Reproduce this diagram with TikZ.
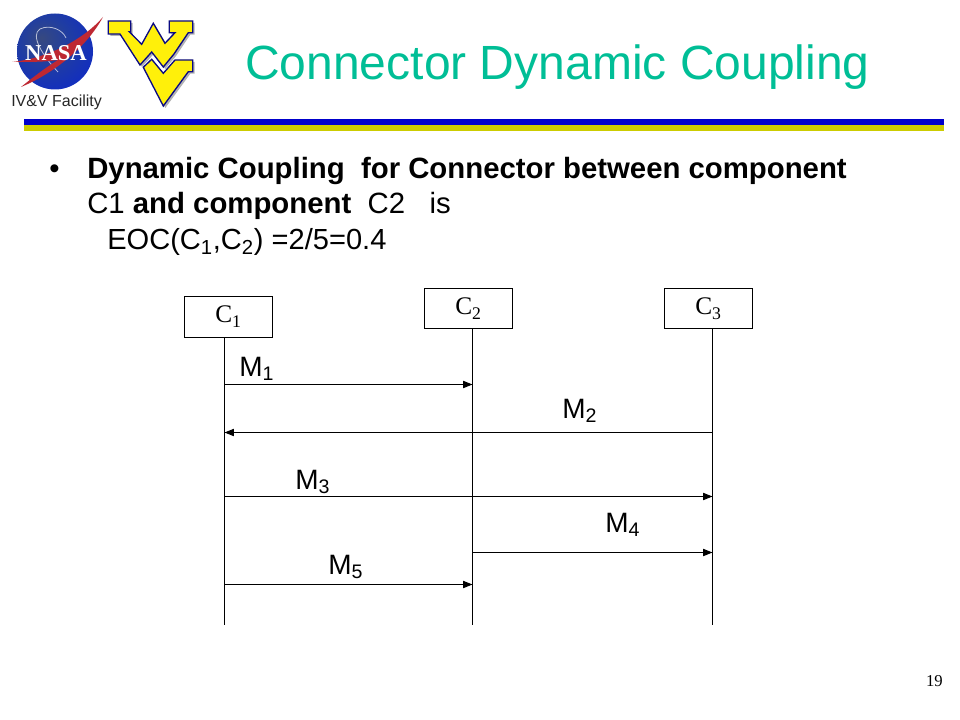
\documentclass[tikz,border=0pt]{standalone}
\usepackage{fontspec}
\setmainfont{Liberation Sans}
\newfontfamily\serifface{Liberation Serif}
\usetikzlibrary{arrows.meta,shadings}
\definecolor{titlegreen}{RGB}{0,190,150}
\definecolor{barblue}{RGB}{0,0,204}
\definecolor{barolive}{RGB}{204,204,0}
\definecolor{wvnavy}{RGB}{10,10,130}
\definecolor{wvyellow}{RGB}{255,240,10}
\definecolor{nasared}{RGB}{190,40,50}
\pgfdeclareradialshading{nasaball}{\pgfpoint{-9bp}{9bp}}{
  color(0bp)=(rgb:red,0.36;green,0.48;blue,0.84);
  color(16bp)=(rgb:red,0.13;green,0.25;blue,0.66);
  color(38bp)=(rgb:red,0.03;green,0.09;blue,0.45);
  color(70bp)=(rgb:red,0.02;green,0.05;blue,0.28)}
\newcommand{\boxlabel}[1]{\raisebox{-2pt}{C\textsubscript{\raisebox{-1pt}{#1}}}}
\tikzset{
  px/.style={x=0.75pt,y=-0.75pt},
  boxnode/.style={draw=black,line width=0.75pt,fill=white,minimum width=66pt,minimum height=30pt,inner sep=0pt,font=\serifface\fontsize{19}{20}\selectfont},
  lifeline/.style={draw=black,line width=0.75pt},
  msg/.style={draw=black,line width=0.75pt,-{Triangle[length=7pt,width=5.4pt]}},
  msglabel/.style={inner sep=0pt,anchor=base west,font=\fontsize{21}{23}\selectfont},
  bodytext/.style={inner sep=0pt,anchor=base west,font=\fontsize{22}{24}\selectfont},
  wvshape/.style={draw=wvnavy,line width=1pt,fill=wvyellow,line join=miter},
  wvshadow/.style={fill=black!30},
}
\begin{document}
\begin{tikzpicture}[px]
\useasboundingbox (0,0) rectangle (960,720);
% NASA logo
\shade[shading=nasaball] (55,51.5) circle (38);
\draw[white,line width=0.6pt,opacity=.65] (58,72) .. controls (42,55) and (30,35) .. (40,29) .. controls (50,24) and (63,30) .. (66,38);
\fill[nasared] (103,17) .. controls (85,38) and (50,58) .. (12,62) .. controls (30,62) and (45,62) .. (58,60) .. controls (45,68) and (32,78) .. (21,87) .. controls (50,75) and (85,50) .. (103,17) -- cycle;
\node[inner sep=0pt,text=white,font=\serifface\bfseries\fontsize{17}{18}\selectfont] (nasa) at (56,53) {NASA};
\node[inner sep=0pt,anchor=base west,font=\fontsize{12}{13}\selectfont,text=black!85] (ivv) at (11,107) {IV\&V Facility};
% WV logo
\begin{scope}[xshift=1.5pt,yshift=-1.5pt]
\fill[wvshadow] (108.3,21) -- (130.7,21) -- (130.7,31.7) -- (129.3,31.7) -- (141.7,44.3) -- (153.3,23.3) -- (165,43.3) -- (175,32.7) -- (169.3,32.7) -- (169.3,21) -- (192.7,21) -- (192.7,32.7) -- (188.3,32.7) -- (174,54) -- (163.3,67) -- (151.7,52) -- (140,65) -- (120,34) -- (108.3,34) -- cycle;
\fill[wvshadow] (143.3,67.3) -- (151.7,59.3) -- (163.3,73.3) -- (175,60) -- (192.7,60) -- (192.7,71.7) -- (188.3,71.7) -- (163.3,106) -- cycle;
\end{scope}
\draw[wvshape] (108.3,21) -- (130.7,21) -- (130.7,31.7) -- (129.3,31.7) -- (141.7,44.3) -- (153.3,23.3) -- (165,43.3) -- (175,32.7) -- (169.3,32.7) -- (169.3,21) -- (192.7,21) -- (192.7,32.7) -- (188.3,32.7) -- (174,54) -- (163.3,67) -- (151.7,52) -- (140,65) -- (120,34) -- (108.3,34) -- cycle;
\draw[wvshape] (143.3,67.3) -- (151.7,59.3) -- (163.3,73.3) -- (175,60) -- (192.7,60) -- (192.7,71.7) -- (188.3,71.7) -- (163.3,106) -- cycle;
% Title and rules
\node[inner sep=0pt,anchor=base west,text=titlegreen,font=\fontsize{36}{40}\selectfont] (title) at (245,80) {Connector Dynamic Coupling};
\fill[barblue] (24,119) rectangle (944,125);
\fill[barolive] (24,125) rectangle (944,131);
% Body text
\node[bodytext] (bullet) at (49,179) {•};
\node[bodytext] (line1) at (87,179) {\textbf{Dynamic Coupling\ \ for Connector between component}};
\node[bodytext] (line2) at (87,214) {C1 \textbf{and component\ \ }C2\ \ \ is};
\node[bodytext,font=\fontsize{21.8}{24}\selectfont] (line3) at (107,250) {EOC(C\textsubscript{1},C\textsubscript{2}) =2/5=0.4};
% Boxes
\node[boxnode] (c1) at (228.5,317) {\boxlabel{1}};
\node[boxnode] (c2) at (468.5,308.5) {\boxlabel{2}};
\node[boxnode] (c3) at (708.5,308.5) {\boxlabel{3}};
% Lifelines
\coordinate (e1) at (224.5,625);
\coordinate (e2) at (472.5,625);
\coordinate (e3) at (712.5,625);
\coordinate (a1) at (224.5,384.5); \coordinate (a2) at (472.5,384.5);
\coordinate (b3) at (712.5,432.5); \coordinate (b1) at (224.5,432.5);
\coordinate (d1) at (224.5,496.5); \coordinate (d3) at (712.5,496.5);
\coordinate (f2) at (472.5,552.5); \coordinate (f3) at (712.5,552.5);
\coordinate (g1) at (224.5,584.5); \coordinate (g2) at (472.5,584.5);
\draw[lifeline] (c1.south -| e1) -- (e1);
\draw[lifeline] (c2.south -| e2) -- (e2);
\draw[lifeline] (c3.south -| e3) -- (e3);
% Messages
\draw[msg] (a1) -- (a2);
\draw[msg] (b3) -- (b1);
\draw[msg] (d1) -- (d3);
\draw[msg] (f2) -- (f3);
\draw[msg] (g1) -- (g2);
\node[msglabel] (m1) at (239,376) {M\textsubscript{1}};
\node[msglabel] (m2) at (562,418) {M\textsubscript{2}};
\node[msglabel] (m3) at (295,489) {M\textsubscript{3}};
\node[msglabel] (m4) at (605,532) {M\textsubscript{4}};
\node[msglabel] (m5) at (328,574) {M\textsubscript{5}};
% Page number
\node[inner sep=0pt,anchor=base east,font=\serifface\fontsize{12.5}{14}\selectfont] (page) at (943,686) {19};
\end{tikzpicture}
\end{document}
